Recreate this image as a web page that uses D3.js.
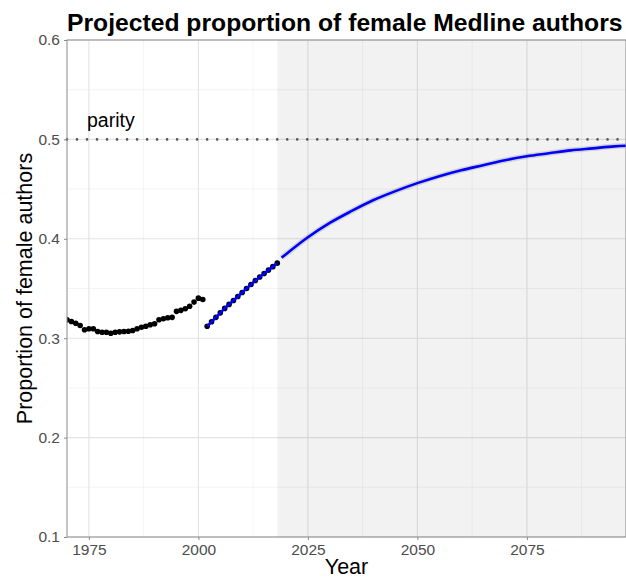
<!DOCTYPE html>
<html>
<head>
<meta charset="utf-8">
<script src="https://cdn.jsdelivr.net/npm/d3@7"></script>
<style>
  body { margin: 0; background: #fff; }
  text { font-family: "Liberation Sans", Arial, sans-serif; }
</style>
</head>
<body>
<div id="chart"></div>
<script>
// observed proportions, 1970-2001 (older series)
var oldYears = [1970, 1971, 1972, 1973, 1974, 1975, 1976, 1977, 1978, 1979,
                1980, 1981, 1982, 1983, 1984, 1985, 1986, 1987, 1988, 1989,
                1990, 1991, 1992, 1993, 1994, 1995, 1996, 1997, 1998, 1999,
                2000, 2001];
var oldValues = [0.3185, 0.3168, 0.3151, 0.3128, 0.3085, 0.3095, 0.3095, 0.3067, 0.306, 0.306,
                 0.305, 0.306, 0.3064, 0.3067, 0.307, 0.3078, 0.3095, 0.311, 0.312, 0.3135,
                 0.3145, 0.3185, 0.3195, 0.3205, 0.321, 0.327, 0.328, 0.3296, 0.3322, 0.3363,
                 0.3403, 0.339];

// observed proportions, 2002-2018 (recent series, fitted)
var newYears = [2002, 2003, 2004, 2005, 2006, 2007, 2008, 2009, 2010, 2011,
                2012, 2013, 2014, 2015, 2016, 2017, 2018];
var newValues = [0.312, 0.3165, 0.321, 0.3255, 0.330, 0.334, 0.338, 0.342, 0.346, 0.350,
                 0.354, 0.358, 0.3615, 0.365, 0.3685, 0.372, 0.3755];

// projected proportion
var projYears = [2019, 2020, 2025, 2030, 2035, 2040, 2045, 2050, 2055, 2060,
                 2065, 2070, 2075, 2080, 2085, 2090, 2095, 2100];
var projValues = [0.381, 0.3845, 0.4015, 0.416, 0.428, 0.439, 0.448, 0.456, 0.463, 0.469,
                  0.474, 0.479, 0.483, 0.486, 0.489, 0.491, 0.493, 0.494];

var xTicks = [1975, 2000, 2025, 2050, 2075];
var xMinor = [1987.5, 2012.5, 2037.5, 2062.5, 2087.5];
var yTicks = [0.1, 0.2, 0.3, 0.4, 0.5, 0.6];
var yMinor = [0.15, 0.25, 0.35, 0.45, 0.55];
var parity = 0.5;
var projStart = 2018;

var margin = {top: 40, right: 0, bottom: 41, left: 67},
    width = 626 - margin.left - margin.right,
    height = 578 - margin.top - margin.bottom;

var x = d3.scaleLinear().domain([1970, 1970 + width / 4.38]).range([0, width]);
var y = d3.scaleLinear().domain([0.1, 0.6]).range([height, 0]);

var svg = d3.select("#chart").append("svg")
    .attr("width", 626)
    .attr("height", 578);

var g = svg.append("g")
    .attr("transform", "translate(" + margin.left + "," + margin.top + ")");

g.append("clipPath").attr("id", "clip")
    .append("rect").attr("width", width).attr("height", height);

// gridlines
g.selectAll(".xminor").data(xMinor).enter().append("line")
    .attr("x1", d => x(d)).attr("x2", d => x(d))
    .attr("y1", 0).attr("y2", height)
    .attr("stroke", "#ebebeb").attr("stroke-width", 0.6);
g.selectAll(".yminor").data(yMinor).enter().append("line")
    .attr("x1", 0).attr("x2", width)
    .attr("y1", d => y(d)).attr("y2", d => y(d))
    .attr("stroke", "#ebebeb").attr("stroke-width", 0.6);
g.selectAll(".xmajor").data(xTicks).enter().append("line")
    .attr("x1", d => x(d)).attr("x2", d => x(d))
    .attr("y1", 0).attr("y2", height)
    .attr("stroke", "#e3e3e3").attr("stroke-width", 1.1);
g.selectAll(".ymajor").data(yTicks).enter().append("line")
    .attr("x1", 0).attr("x2", width)
    .attr("y1", d => y(d)).attr("y2", d => y(d))
    .attr("stroke", "#e3e3e3").attr("stroke-width", 1.1);

// shaded projection region
g.append("rect")
    .attr("x", x(projStart))
    .attr("y", 0)
    .attr("width", width - x(projStart))
    .attr("height", height)
    .attr("fill", "#000")
    .attr("fill-opacity", 0.05);

// parity line
g.append("line")
    .attr("x1", 0).attr("x2", width)
    .attr("y1", y(parity)).attr("y2", y(parity))
    .attr("stroke", "#555")
    .attr("stroke-width", 2.6)
    .attr("stroke-linecap", "round")
    .attr("stroke-dasharray", "0.01 10");

g.append("text")
    .attr("x", x(1980))
    .attr("y", y(0.512))
    .attr("text-anchor", "middle")
    .attr("font-size", "19.5px")
    .attr("fill", "#000")
    .text("parity");

var plot = g.append("g").attr("clip-path", "url(#clip)");

var line = d3.line()
    .x(d => x(d[0]))
    .y(d => y(d[1]))
    .curve(d3.curveMonotoneX);

var oldData = oldYears.map((d, i) => [d, oldValues[i]]);
var newData = newYears.map((d, i) => [d, newValues[i]]);
var projData = projYears.map((d, i) => [d, projValues[i]]);

// points
plot.selectAll(".pt").data(oldData.concat(newData)).enter().append("circle")
    .attr("cx", d => x(d[0]))
    .attr("cy", d => y(d[1]))
    .attr("r", 2.8)
    .attr("fill", "#000");

// fitted line over recent points
plot.append("path")
    .datum(newData)
    .attr("d", line)
    .attr("fill", "none")
    .attr("stroke", "#0000ff")
    .attr("stroke-width", 2.6);

// projection: faint uncertainty band then line
plot.append("path")
    .datum(projData)
    .attr("d", line)
    .attr("fill", "none")
    .attr("stroke", "#000")
    .attr("stroke-opacity", 0.12)
    .attr("stroke-width", 5.5);

plot.append("path")
    .datum(projData)
    .attr("d", line)
    .attr("fill", "none")
    .attr("stroke", "#0000ff")
    .attr("stroke-width", 2.6);

// panel border
g.append("rect")
    .attr("width", width)
    .attr("height", height)
    .attr("fill", "none")
    .attr("stroke", "#8a8a8a")
    .attr("stroke-width", 1);

// axes
var xAxis = g.append("g")
    .attr("transform", "translate(0," + height + ")")
    .call(d3.axisBottom(x).tickValues(xTicks).tickFormat(d3.format("d")).tickSize(3).tickPadding(4));
var yAxis = g.append("g")
    .call(d3.axisLeft(y).tickValues(yTicks).tickFormat(d3.format(".1f")).tickSize(3).tickPadding(4));

[xAxis, yAxis].forEach(function(a) {
    a.select(".domain").remove();
    a.selectAll("line").attr("stroke", "#8a8a8a");
    a.selectAll("text")
        .attr("fill", "#4d4d4d")
        .attr("font-size", "15.5px")
        .attr("font-family", "Liberation Sans, Arial, sans-serif");
});

// axis titles
svg.append("text")
    .attr("x", margin.left + width / 2)
    .attr("y", 573.5)
    .attr("text-anchor", "middle")
    .attr("font-size", "21.5px")
    .text("Year");

svg.append("text")
    .attr("transform", "rotate(-90)")
    .attr("x", -(margin.top + height / 2))
    .attr("y", 32)
    .attr("text-anchor", "middle")
    .attr("font-size", "21.5px")
    .text("Proportion of female authors");

// title
svg.append("text")
    .attr("x", margin.left)
    .attr("y", 31)
    .attr("font-size", "24.7px")
    .attr("font-weight", "bold")
    .text("Projected proportion of female Medline authors");
</script>
</body>
</html>
